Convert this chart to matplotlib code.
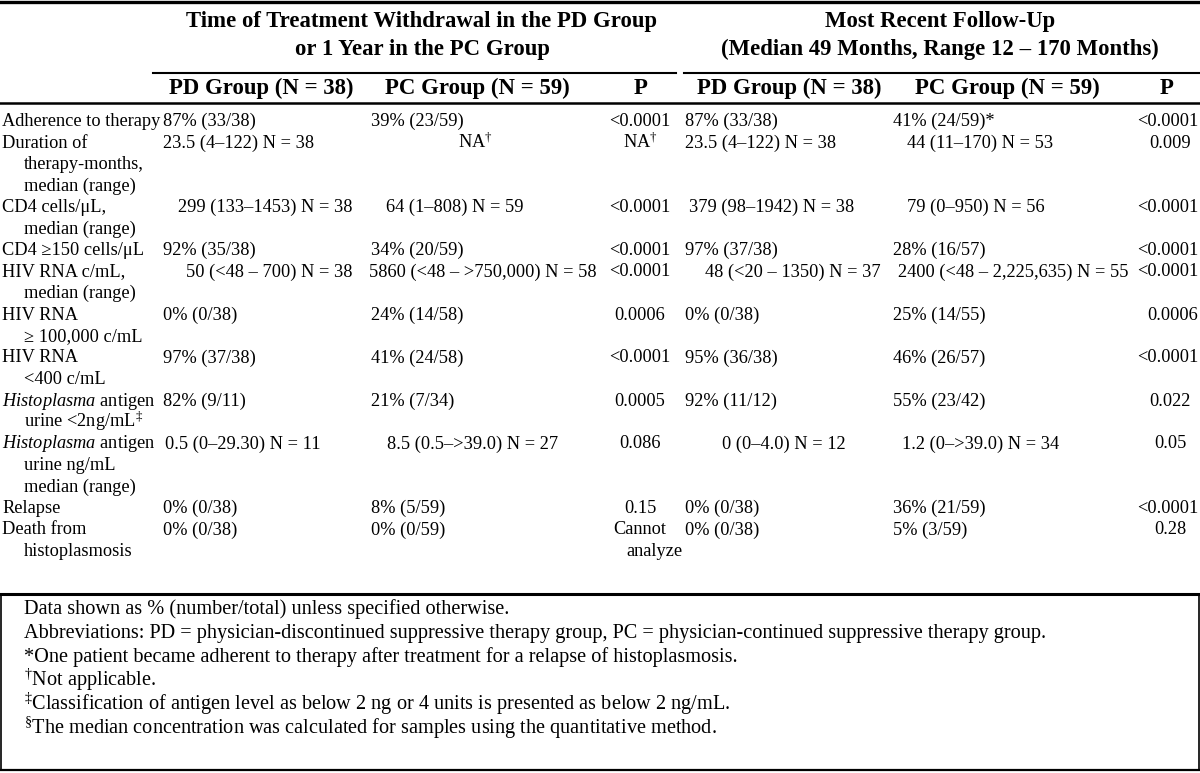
# Recreate the follow-up outcomes table (PD vs PC group) as a matplotlib figure
# python3 plot.py  ->  out.png

import matplotlib.pyplot as plt

# Table content
row_labels = [
    ["Adherence to therapy"],
    ["Duration of", "therapy-months,", "median (range)"],
    ["CD4 cells/\u03bcL,", "median (range)"],
    ["CD4 \u2265150 cells/\u03bcL"],
    ["HIV RNA c/mL,", "median (range)"],
    ["HIV RNA", "\u2265 100,000 c/mL"],
    ["HIV RNA", "<400 c/mL"],
    [r"$\mathit{Histoplasma}$ antigen", r"urine <2ng/mL$^{\ddagger}$"],
    [r"$\mathit{Histoplasma}$ antigen", "urine ng/mL", "median (range)"],
    ["Relapse"],
    ["Death from", "histoplasmosis"],
]

pd_withdrawal = ["87% (33/38)", "23.5 (4\u2013122) N = 38", "299 (133\u20131453) N = 38",
                 "92% (35/38)", "50 (<48 \u2013 700) N = 38", "0% (0/38)", "97% (37/38)",
                 "82% (9/11)", "0.5 (0\u201329.30) N = 11", "0% (0/38)", "0% (0/38)"]
pc_one_year = ["39% (23/59)", r"NA$^{\dagger}$", "64 (1\u2013808) N = 59", "34% (20/59)",
               "5860 (<48 \u2013 >750,000) N = 58", "24% (14/58)", "41% (24/58)",
               "21% (7/34)", "8.5 (0.5\u2013>39.0) N = 27", "8% (5/59)", "0% (0/59)"]
p_withdrawal = ["<0.0001", r"NA$^{\dagger}$", "<0.0001", "<0.0001", "<0.0001", "0.0006",
                "<0.0001", "0.0005", "0.086", "0.15", "Cannot\nanalyze"]
pd_followup = ["87% (33/38)", "23.5 (4\u2013122) N = 38", "379 (98\u20131942) N = 38",
               "97% (37/38)", "48 (<20 \u2013 1350) N = 37", "0% (0/38)", "95% (36/38)",
               "92% (11/12)", "0 (0\u20134.0) N = 12", "0% (0/38)", "0% (0/38)"]
pc_followup = ["41% (24/59)*", "44 (11\u2013170) N = 53", "79 (0\u2013950) N = 56",
               "28% (16/57)", "2400 (<48 \u2013 2,225,635) N = 55", "25% (14/55)",
               "46% (26/57)", "55% (23/42)", "1.2 (0\u2013>39.0) N = 34", "36% (21/59)",
               "5% (3/59)"]
p_followup = ["<0.0001", "0.009", "<0.0001", "<0.0001", "<0.0001", "0.0006", "<0.0001",
              "0.022", "0.05", "<0.0001", "0.28"]

spanner_titles = ["Time of Treatment Withdrawal in the PD Group\nor 1 Year in the PC Group",
                  "Most Recent Follow-Up\n(Median 49 Months, Range 12 \u2013 170 Months)"]
column_titles = ["PD Group (N = 38)", "PC Group (N = 59)", "P",
                 "PD Group (N = 38)", "PC Group (N = 59)", "P"]

footnotes = [
    "Data shown as % (number/total) unless specified otherwise.",
    "Abbreviations: PD = physician-discontinued suppressive therapy group, "
    "PC = physician-continued suppressive therapy group.",
    "*One patient became adherent to therapy after treatment for a relapse of histoplasmosis.",
    r"$^{\dagger}$Not applicable.",
    r"$^{\ddagger}$Classification of antigen level as below 2 ng or 4 units is presented as below 2 ng/mL.",
    r"$^{\S}$The median concentration was calculated for samples using the quantitative method.",
]

# Fonts: Times-like serif everywhere, italics via mathtext
plt.rcParams['font.family'] = 'Liberation Serif'
plt.rcParams['mathtext.fontset'] = 'custom'
plt.rcParams['mathtext.rm'] = 'Liberation Serif'
plt.rcParams['mathtext.it'] = 'Liberation Serif:italic'
plt.rcParams['mathtext.bf'] = 'Liberation Serif:bold'

BODY = 13.2
HEAD = 16.4
NOTE = 14.6
LINE_H = 21.5

fig = plt.figure(figsize=(12, 7.73), dpi=100)
ax = fig.add_axes([0, 0, 1, 1])
ax.set_xlim(0, 1200)
ax.set_ylim(773, 0)
ax.axis('off')

# Rules
ax.plot([0, 1200], [2, 2], color='black', lw=2.4)
ax.plot([153, 676], [73, 73], color='black', lw=1.5)
ax.plot([684, 1200], [73, 73], color='black', lw=1.5)
ax.plot([0, 1200], [103, 103], color='black', lw=1.8)
ax.plot([0, 1200], [594, 594], color='black', lw=2.2)
ax.plot([1, 1], [594, 770], color='black', lw=1.2)
ax.plot([1198.5, 1198.5], [594, 770], color='black', lw=1.2)
ax.plot([0, 1200], [770, 770], color='black', lw=1.6)

# Header
for title, xc in zip(spanner_titles, [422, 940]):
    for k, line in enumerate(title.split('\n')):
        ax.text(xc, 21 + 28 * k, line, ha='center', va='center',
                fontsize=HEAD, fontweight='bold')
for title, xc in zip(column_titles, [261, 477, 641, 789, 1007, 1167]):
    ax.text(xc, 88, title, ha='center', va='center', fontsize=HEAD, fontweight='bold')

# Body
columns = [pd_withdrawal, pc_one_year, p_withdrawal, pd_followup, pc_followup, p_followup]
col_pos = [(163, 'left'), (371, 'left'), (640, 'center'),
           (685, 'left'), (893, 'left'), (1170, 'center')]
# hand-set placements copied from the printed layout
place = {
    (2, 0): (353, 'right'), (4, 0): (353, 'right'), (8, 0): (165, 'left'),
    (1, 1): (475, 'center'), (2, 1): (386, 'left'), (4, 1): (597, 'right'),
    (8, 1): (387, 'left'),
    (2, 3): (689, 'left'), (4, 3): (881, 'right'), (8, 3): (722, 'left'),
    (1, 4): (907, 'left'), (2, 4): (907, 'left'), (4, 4): (1128, 'right'),
    (8, 4): (902, 'left'), (0, 5): (1198, 'right'), (2, 5): (1198, 'right'),
    (3, 5): (1198, 'right'), (4, 5): (1198, 'right'), (5, 5): (1198, 'right'),
    (6, 5): (1198, 'right'), (9, 5): (1198, 'right'),
}

y = 121
for r, lines in enumerate(row_labels):
    for k, line in enumerate(lines):
        ax.text(2 if k == 0 else 24, y + 5 + LINE_H * k, line, ha='left',
                va='baseline', fontsize=BODY)
    for c, col in enumerate(columns):
        x, ha = place.get((r, c), col_pos[c])
        cell = col[r].split('\n')
        for k, line in enumerate(cell):
            ax.text(x + 14 * k, y + 5 + LINE_H * k, line, ha=ha, va='baseline',
                    fontsize=BODY)
    y += LINE_H * len(lines)

# Footnotes
for k, note in enumerate(footnotes):
    ax.text(24, 614 + 24 * k, note, ha='left', va='baseline', fontsize=NOTE)

fig.savefig('out.png', dpi=100)
